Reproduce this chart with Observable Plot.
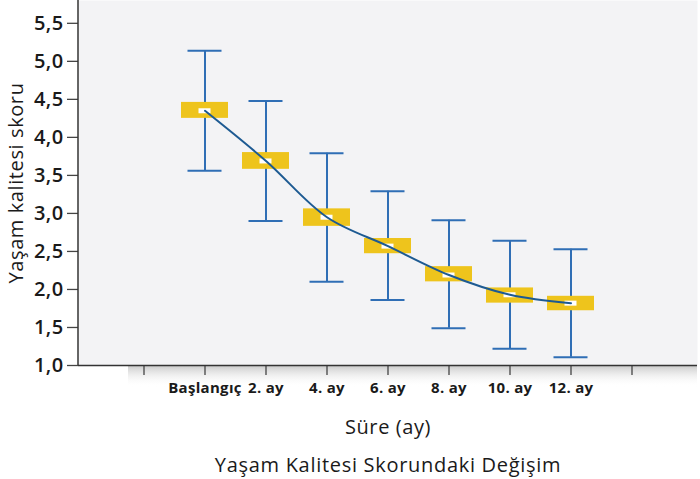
<!DOCTYPE html>
<html>
<head>
<meta charset="utf-8">
<script src="https://cdn.jsdelivr.net/npm/d3@7"></script>
<script src="https://cdn.jsdelivr.net/npm/@observablehq/plot@0.6"></script>
<style>
  html, body { margin: 0; padding: 0; background: #ffffff; }
  body { width: 700px; height: 479px; overflow: hidden; font-family: "Open Sans", sans-serif; }
  #title { text-align: center; font-size: 20px; font-weight: 500; color: #1a1a1a; padding-left: 76px; margin-top: 6px; letter-spacing: 0.7px; }
</style>
</head>
<body>
<div id="chart"></div>
<div id="title">Yaşam Kalitesi Skorundaki Değişim</div>
<script>
const categories = ["Başlangıç", "2. ay", "4. ay", "6. ay", "8. ay", "10. ay", "12. ay"];
const means      = [4.35, 3.69, 2.95, 2.57, 2.19, 1.93, 1.82];
const boxLow     = [4.25, 3.58, 2.83, 2.47, 2.10, 1.82, 1.72];
const boxHigh    = [4.46, 3.80, 3.06, 2.67, 2.30, 2.02, 1.91];
const errLow     = [3.56, 2.90, 2.10, 1.86, 1.49, 1.22, 1.11];
const errHigh    = [5.14, 4.48, 3.79, 3.29, 2.91, 2.64, 2.53];
const yTicks     = [1.0, 1.5, 2.0, 2.5, 3.0, 3.5, 4.0, 4.5, 5.0, 5.5];
const xDomain    = ["_start", ...categories, "_end"];

const data = categories.map((c, i) => ({
  cat: c, mean: means[i], lo: boxLow[i], hi: boxHigh[i], elo: errLow[i], ehi: errHigh[i]
}));

const yellow = "#EEC41C";
const blue = "#2F6EB5";
const lineBlue = "#1D5A92";

const plot = Plot.plot({
  width: 700,
  height: 445,
  marginLeft: 78,
  marginRight: 3,
  marginTop: 0,
  marginBottom: 80,
  style: { fontFamily: "Open Sans, sans-serif", background: "transparent", overflow: "visible" },
  x: { type: "band", domain: xDomain, paddingInner: 0.225, paddingOuter: 0.6125 },
  y: { domain: [1.0, 5.8] },
  marks: [
    Plot.frame({ fill: "#f3f3f5", stroke: null }),
    Plot.ruleX(data, { x: "cat", y1: "elo", y2: "ehi", stroke: blue, strokeWidth: 2 }),
    Plot.tickY(data, { x: "cat", y: "ehi", stroke: blue, strokeWidth: 2, insetLeft: 6.5, insetRight: 6.5 }),
    Plot.tickY(data, { x: "cat", y: "elo", stroke: blue, strokeWidth: 2, insetLeft: 6.5, insetRight: 6.5 }),
    Plot.barY(data, { x: "cat", y1: "lo", y2: "hi", fill: yellow }),
    Plot.tickY(data, { x: "cat", y: "mean", stroke: "#ffffff", strokeWidth: 5, insetLeft: 17.5, insetRight: 17.5 }),
    Plot.line(data, { x: "cat", y: "mean", stroke: lineBlue, strokeWidth: 2, curve: "catmull-rom" }),
    Plot.axisY({
      ticks: yTicks, tickFormat: d => d.toFixed(1).replace(".", ","),
      tickSize: 11, tickPadding: 4,
      label: "Yaşam kalitesi skoru", labelAnchor: "center", labelOffset: 70, labelArrow: "none"
    }),
    Plot.axisX({
      tickFormat: d => d.startsWith("_") ? "" : d,
      tickSize: 10, tickPadding: 7,
      label: "Süre (ay)", labelAnchor: "center", labelOffset: 68, labelArrow: "none"
    }),
    Plot.ruleY([1.0], { stroke: "#333", strokeWidth: 1.5 })
  ]
});

document.getElementById("chart").appendChild(plot);

const svg = d3.select(plot);
svg.selectAll("[aria-label='y-axis label'] text, [aria-label='x-axis label'] text")
  .style("font-size", "20px").style("font-weight", "500").style("letter-spacing", "0.6px").attr("fill", "#1a1a1a");
svg.selectAll("[aria-label='y-axis tick label'] text")
  .style("font-size", "20px").style("font-weight", "600").style("letter-spacing", "0.4px").attr("fill", "#1a1a1a");
svg.selectAll("[aria-label='x-axis tick label'] text")
  .style("font-size", "15px").style("font-weight", "700").style("letter-spacing", "0.3px").attr("fill", "#1a1a1a");
svg.selectAll("[aria-label='y-axis tick'] path, [aria-label='x-axis tick'] path").attr("stroke", "#444").attr("stroke-width", 1.3);

// Left axis line and soft shadow beneath the x axis, positioned from the scales
const xs = plot.scale("x"), ys = plot.scale("y");
const left = xs.range[0], right = xs.range[1];
const y0 = ys.apply(1.0), yTop = ys.apply(ys.domain[1]);
const defs = svg.insert("defs", ":first-child");
const g = defs.append("linearGradient").attr("id", "shadow").attr("x1", 0).attr("x2", 0).attr("y1", 0).attr("y2", 1);
g.append("stop").attr("offset", "0%").attr("stop-color", "#9a9a9a").attr("stop-opacity", 0.55);
g.append("stop").attr("offset", "100%").attr("stop-color", "#ffffff").attr("stop-opacity", 0);
svg.insert("rect", "[aria-label='frame']")
  .attr("x", left + 50).attr("y", y0).attr("width", right - left - 50).attr("height", 22)
  .attr("fill", "url(#shadow)");
svg.append("line").attr("x1", left).attr("x2", left).attr("y1", yTop).attr("y2", y0)
  .attr("stroke", "#333").attr("stroke-width", 1.5);
</script>
</body>
</html>
